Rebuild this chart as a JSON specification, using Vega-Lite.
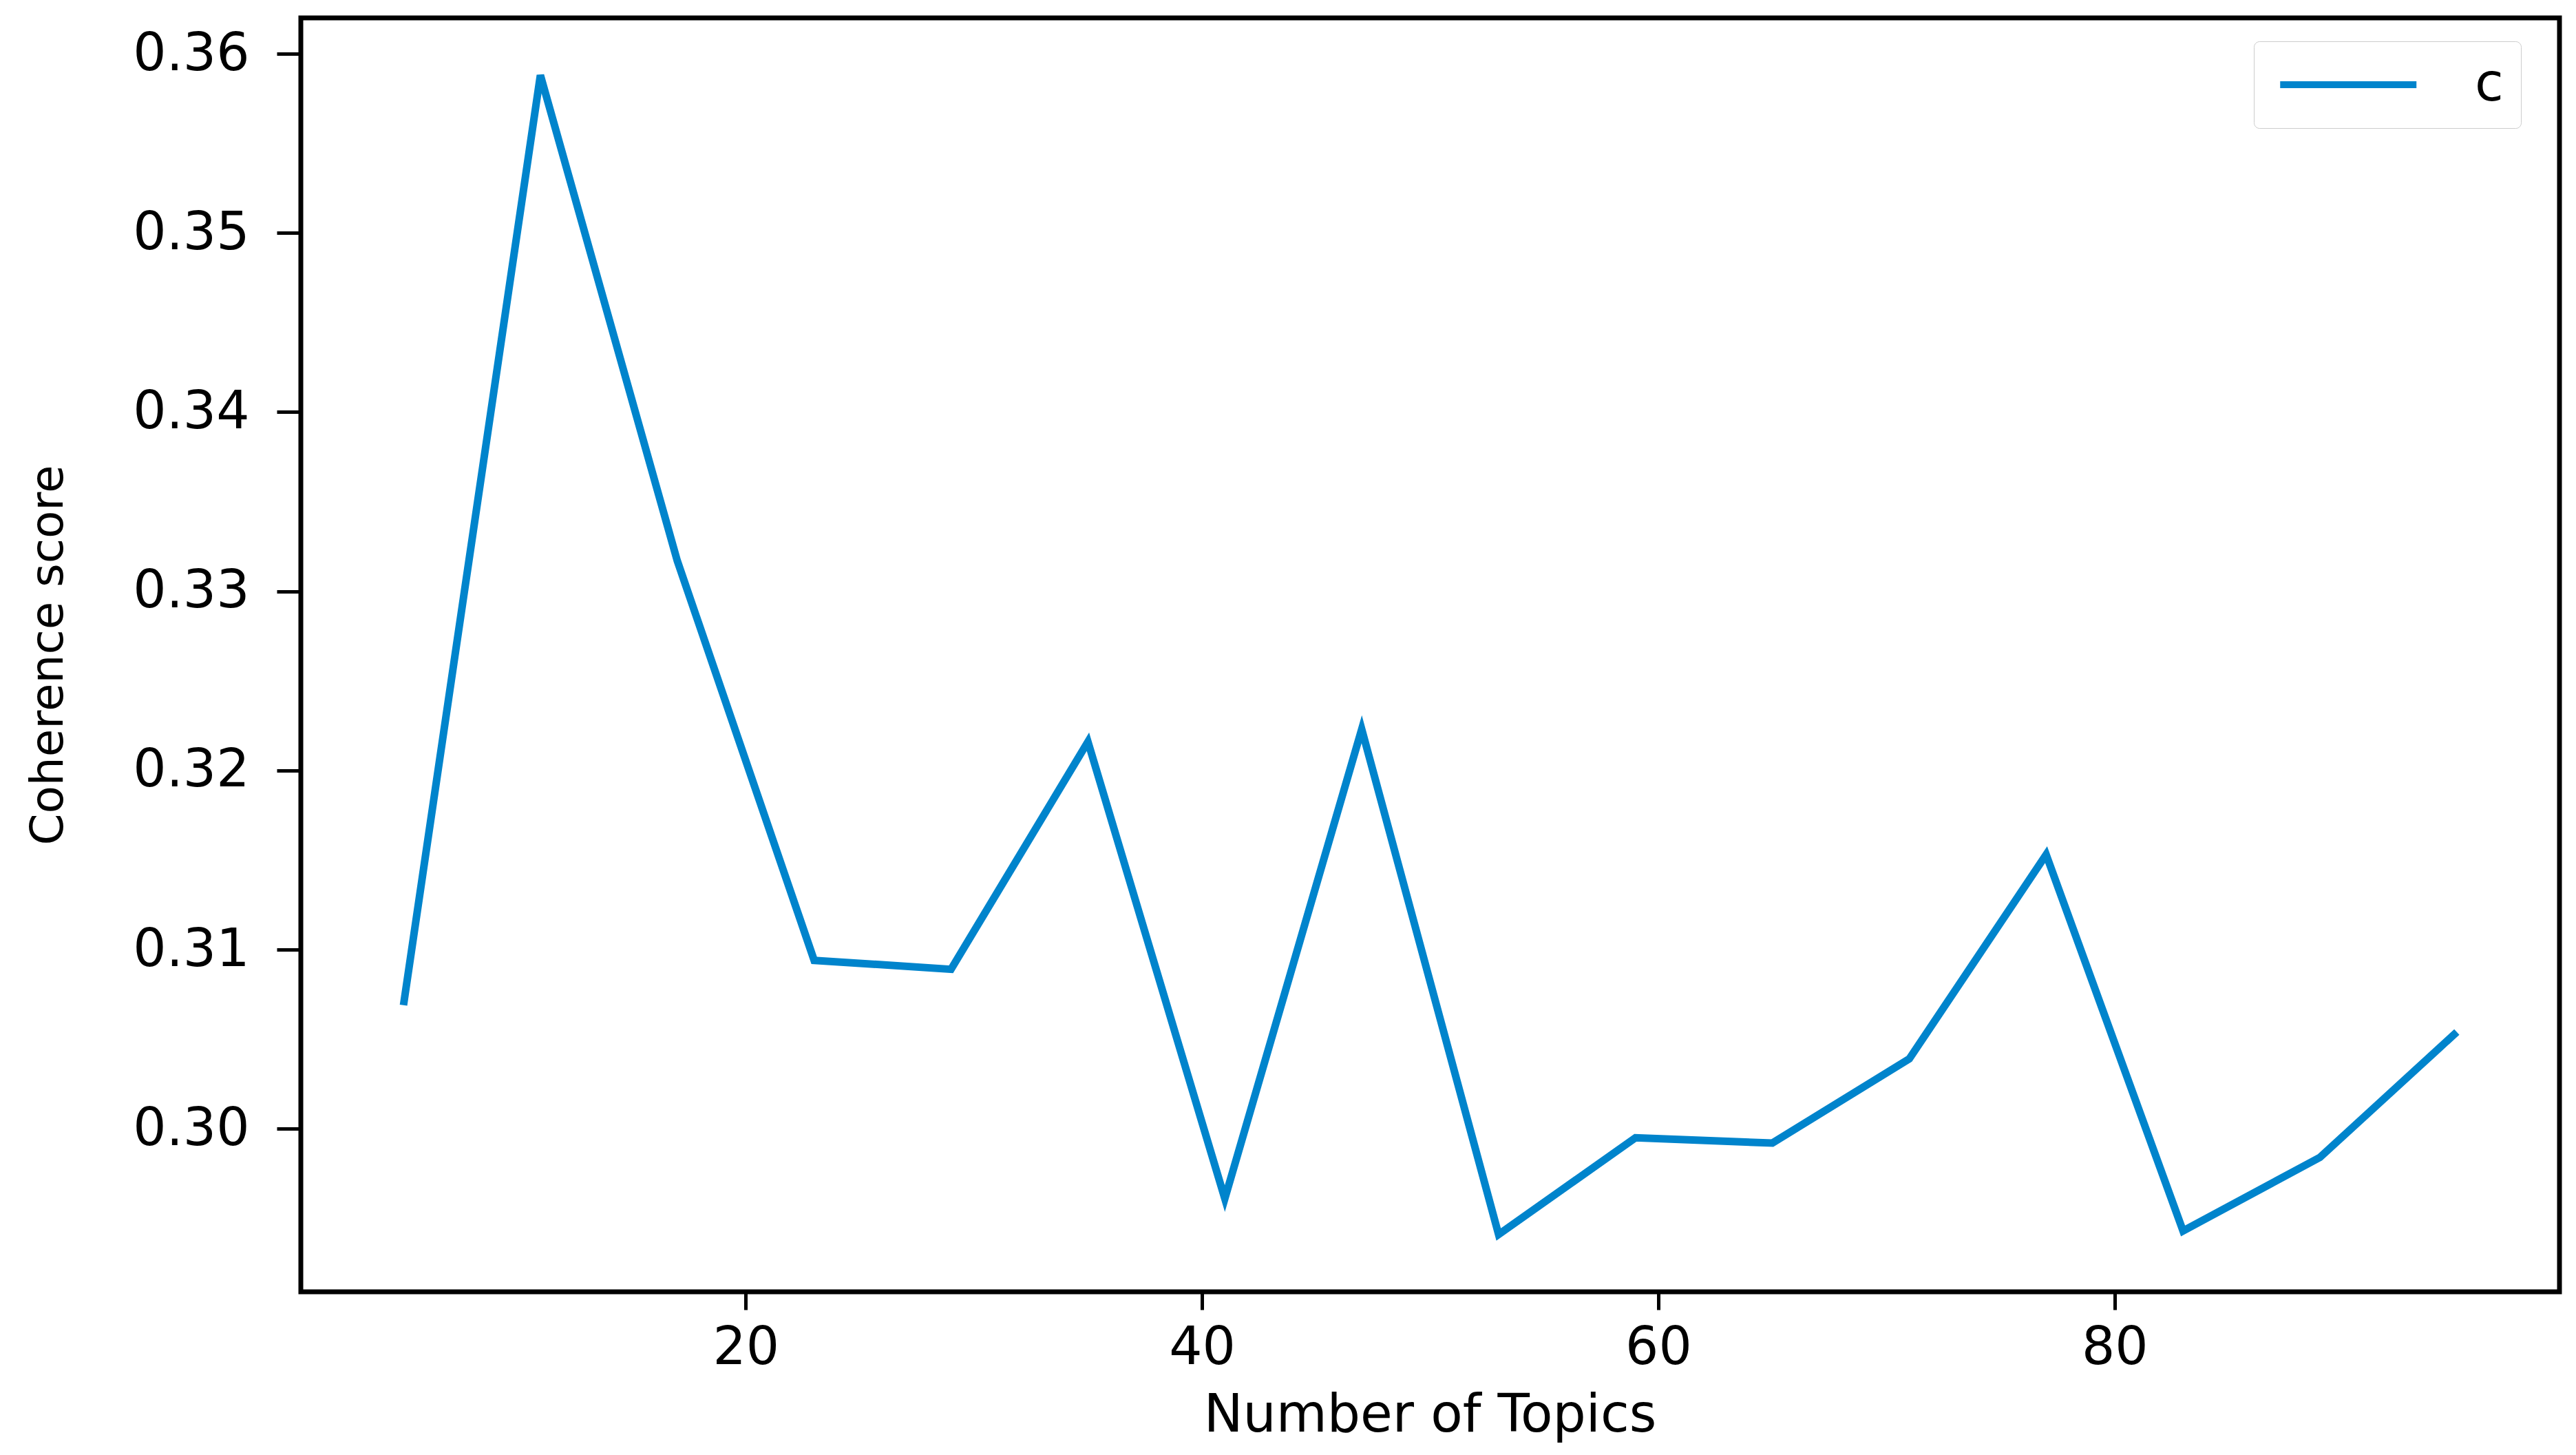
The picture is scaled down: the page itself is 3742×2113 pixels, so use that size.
{
  "$schema": "https://vega.github.io/schema/vega-lite/v6.json",
  "autosize": "none",
  "width": 3281,
  "height": 1850,
  "padding": {"left": 437, "top": 26, "right": 24, "bottom": 237},
  "background": "white",
  "config": {
    "font": "DejaVu Sans",
    "view": {"stroke": "black", "strokeWidth": 7},
    "axis": {"grid": false, "domain": false, "tickColor": "black", "tickWidth": 5, "labelColor": "black", "titleColor": "black", "labelFont": "DejaVu Sans", "titleFont": "DejaVu Sans", "titleFontWeight": "normal"}
  },
  "data": {
    "values": [
      {"topics": 5, "score": 0.3069, "series": "c"},
      {"topics": 11, "score": 0.3588, "series": "c"},
      {"topics": 17, "score": 0.3317, "series": "c"},
      {"topics": 23, "score": 0.3094, "series": "c"},
      {"topics": 29, "score": 0.3089, "series": "c"},
      {"topics": 35, "score": 0.3216, "series": "c"},
      {"topics": 41, "score": 0.2961, "series": "c"},
      {"topics": 47, "score": 0.3223, "series": "c"},
      {"topics": 53, "score": 0.2941, "series": "c"},
      {"topics": 59, "score": 0.2995, "series": "c"},
      {"topics": 65, "score": 0.2992, "series": "c"},
      {"topics": 71, "score": 0.3039, "series": "c"},
      {"topics": 77, "score": 0.3153, "series": "c"},
      {"topics": 83, "score": 0.2943, "series": "c"},
      {"topics": 89, "score": 0.2984, "series": "c"},
      {"topics": 95, "score": 0.3054, "series": "c"}
    ]
  },
  "mark": {"type": "line", "strokeWidth": 11, "clip": true},
  "encoding": {
    "x": {
      "field": "topics", "type": "quantitative",
      "scale": {"domain": [0.5, 99.5], "nice": false, "zero": false},
      "axis": {"values": [20, 40, 60, 80], "tickSize": 26, "labelPadding": 18, "labelFontSize": 76, "labelFlush": false, "title": "Number of Topics", "titleFontSize": 76, "titleX": 1640, "titleY": 202, "titleBaseline": "alphabetic", "titleAlign": "center"}
    },
    "y": {
      "field": "score", "type": "quantitative",
      "scale": {"domain": [0.2909, 0.362], "nice": false, "zero": false},
      "axis": {"values": [0.30, 0.31, 0.32, 0.33, 0.34, 0.35, 0.36], "format": ".2f", "tickSize": 35, "labelPadding": 40, "labelFontSize": 76, "labelFlush": false, "title": "Coherence score", "titleFontSize": 66, "titleAngle": -90, "titleX": -367, "titleY": 925, "titleAlign": "center", "titleBaseline": "middle"}
    },
    "color": {
      "field": "series", "type": "nominal",
      "scale": {"range": ["#0084cc"]},
      "legend": {"title": null, "orient": "none", "legendX": 2837, "legendY": 34, "symbolType": "M-1,0H7", "symbolSize": 2450, "symbolStrokeWidth": 10, "symbolFillColor": "transparent", "labelFontSize": 76, "labelColor": "black", "labelOffset": 220, "padding": 25, "strokeColor": "#cccccc", "fillColor": "white", "cornerRadius": 8}
    }
  }
}
